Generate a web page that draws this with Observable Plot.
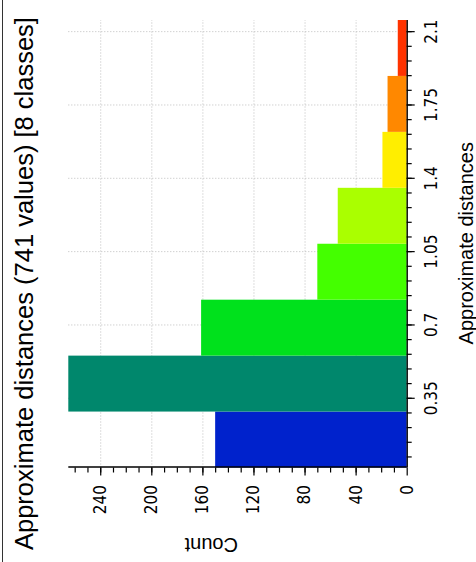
<!DOCTYPE html>
<html><head><meta charset="utf-8">
<script src="https://cdn.jsdelivr.net/npm/d3@7"></script>
<script src="https://cdn.jsdelivr.net/npm/@observablehq/plot@0.6"></script>
<style>
html,body{margin:0;padding:0;overflow:hidden;background:#fff;width:476px;height:562px}
#wrap{position:absolute;left:0;top:0;width:562px;height:476px;transform-origin:0 0;transform:translate(0px,562px) rotate(-90deg);background:#fff}
#frame{position:absolute;left:0;top:2px;width:562px;height:0;border-top:1.5px solid #333}
#title{position:absolute;left:12px;top:12px;font-family:"Liberation Sans",Arial,sans-serif;font-size:25.5px;line-height:25.5px;white-space:nowrap;color:#000}
#chart{position:absolute;left:0;top:0}
</style></head><body>
<div id="wrap"><div id="chart"></div><div id="frame"></div><div id="title"></div></div>
<script>
const chartTitle = "Approximate distances (741 values) [8 classes]";
const xLabel = "Approximate distances";
const yLabel = "Count";
const classLower = [0.022, 0.289, 0.556, 0.823, 1.090, 1.357, 1.624, 1.891];
const classUpper = [0.289, 0.556, 0.823, 1.090, 1.357, 1.624, 1.891, 2.158];
const counts = [150, 265, 161, 70, 54, 19, 15, 7];
const classColors = ["#0022cc", "#00876c", "#00e11c", "#44ff00", "#aaff00", "#ffee00", "#ff8800", "#ff3300"];
const distanceTicks = [0.35, 0.7, 1.05, 1.4, 1.75, 2.1];
const countTicks = [0, 40, 80, 120, 160, 200, 240];
const distanceMinorStep = 0.07;
const countMinorStep = 10;

document.getElementById("title").textContent = chartTitle;

const bins = counts.map((c, i) => ({lo: classLower[i], hi: classUpper[i], count: c, color: classColors[i]}));
const xDomain = [classLower[0], classUpper[classUpper.length - 1]];
const yDomain = [0, d3.max(counts)];
const minorX = d3.range(1, 40).map(k => +(k * distanceMinorStep).toFixed(2)).filter(v => v >= xDomain[0] && v <= xDomain[1]);
const minorY = d3.range(1, 40).map(k => k * countMinorStep).filter(v => v <= yDomain[1]);

const tickFont = '"DejaVu Sans Condensed","DejaVu Sans",sans-serif';
const labelFont = '"Liberation Sans",Arial,sans-serif';
const gridStyle = {stroke: "#bdbdbd", strokeDasharray: "1,2", strokeWidth: 1};

const plot = Plot.plot({
  width: 562, height: 476,
  marginLeft: 94.5, marginRight: 20, marginTop: 68.3, marginBottom: 69.3,
  x: {domain: xDomain, label: null},
  y: {domain: yDomain, label: null},
  color: {type: "identity"},
  style: {fontFamily: tickFont, fontSize: "17px", background: "transparent", color: "#000"},
  marks: [
    Plot.ruleX(distanceTicks, gridStyle),
    Plot.ruleY(countTicks.filter(d => d > 0), gridStyle),
    Plot.rect(bins, {x1: "lo", x2: "hi", y1: 0, y2: "count", fill: "color"}),
    Plot.ruleY([0], {stroke: "#000", strokeWidth: 1.4}),
    Plot.ruleX([xDomain[0]], {stroke: "#000", strokeWidth: 1.4}),
    Plot.axisX(minorX, {tickSize: 5, tickFormat: () => "", label: null, stroke: "#000", strokeWidth: 1.2}),
    Plot.axisX(distanceTicks, {tickSize: 8, tickPadding: 10, tickFormat: d => String(d), label: null, stroke: "#000", strokeWidth: 1.2}),
    Plot.axisY(minorY, {tickSize: 5, tickFormat: () => "", label: null, stroke: "#000", strokeWidth: 1.2}),
    Plot.axisY(countTicks, {tickSize: 8, tickPadding: 10, tickFormat: d => String(d), label: null, stroke: "#000", strokeWidth: 1.2}),
    Plot.text([xLabel], {frameAnchor: "bottom", dy: 65.3, lineAnchor: "bottom", fontFamily: labelFont, fontSize: 20, fill: "#000"}),
    Plot.text([yLabel], {frameAnchor: "left", dx: -70.5, rotate: -90, lineAnchor: "bottom", fontFamily: labelFont, fontSize: 20, fill: "#000"})
  ]
});
document.getElementById("chart").appendChild(plot);
</script>
</body></html>
